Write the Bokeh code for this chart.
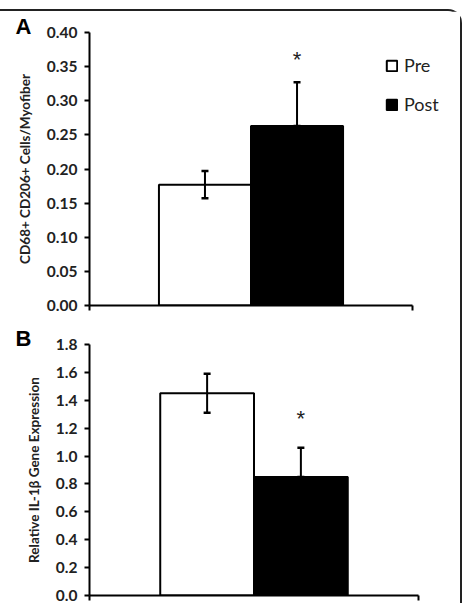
from bokeh.plotting import figure
from bokeh.layouts import column
from bokeh.models import (Range1d, FixedTicker, Legend, LegendItem, ColumnDataSource,
                          Title, NumeralTickFormatter)
from bokeh.embed import file_html
from bokeh.resources import INLINE
from bokeh.core.properties import value

# ---- data ----
groups = ["Pre", "Post"]
bar_fill = ["white", "black"]

a_means = [0.177, 0.263]
a_err_up = [0.020, 0.064]
a_err_low = [0.020, 0.0]
a_ticks = [0.00, 0.05, 0.10, 0.15, 0.20, 0.25, 0.30, 0.35, 0.40]
a_star = [None, 0.362]
a_label = "CD68+ CD206+ Cells/Myofiber"

b_means = [1.45, 0.85]
b_err_up = [0.14, 0.21]
b_err_low = [0.14, 0.0]
b_ticks = [0.0, 0.2, 0.4, 0.6, 0.8, 1.0, 1.2, 1.4, 1.6, 1.8]
b_star = [None, 1.28]
b_label = "Relative IL-1\u03b2 Gene Expression"

FONT = "Lato"
BAR_W = 0.285
CENTER = 0.5
FIG_W = 460


def panel(means, up, low, ticks, fmt, ylabel, letter, stars, height,
          b_top, b_bottom, axis_end_px, legend=False):
    xs = [CENTER - BAR_W / 2, CENTER + BAR_W / 2]
    src = ColumnDataSource(dict(
        x=xs, top=means, fill=bar_fill, name=groups,
        hi=[m + u for m, u in zip(means, up)],
        lo=[m - l for m, l in zip(means, low)],
    ))
    left, right_border = 89, 2
    frame_w = FIG_W - left - right_border
    x_end = frame_w / (axis_end_px - left)
    p = figure(width=FIG_W, height=height, output_backend="svg", toolbar_location=None,
               x_range=Range1d(0, x_end), y_range=Range1d(ticks[0], ticks[-1]),
               min_border_left=left, min_border_right=right_border,
               min_border_top=b_top, min_border_bottom=b_bottom)
    p.outline_line_color = None
    p.grid.visible = False
    p.background_fill_color = "white"
    p.border_fill_color = "white"

    bars = p.vbar(x="x", top="top", bottom=0, width=BAR_W, source=src,
                  fill_color="fill", line_color="black", line_width=2)
    p.segment(x0="x", y0="lo", x1="x", y1="hi", source=src, line_color="black", line_width=2)
    p.scatter(x="x", y="hi", source=src, marker="dash", size=7, line_color="black", line_width=2.5)
    p.scatter(x="x", y="lo", source=src, marker="dash", size=7, line_color="black", line_width=2.5)

    sx = [x for x, s in zip(xs, stars) if s is not None]
    sy = [s for s in stars if s is not None]
    p.text(x=sx, y=sy, text=["*"] * len(sx), text_align="center", text_baseline="middle",
           y_offset=1, text_font=value("Liberation Sans"), text_font_size="22px",
           text_color="#222")

    ya = p.yaxis[0]
    ya.ticker = FixedTicker(ticks=ticks)
    ya.formatter = NumeralTickFormatter(format=fmt)
    ya.axis_label = ylabel
    ya.axis_label_text_font = FONT
    ya.axis_label_text_font_style = "bold"
    ya.axis_label_text_font_size = "13.5px"
    ya.axis_label_text_color = "#222"
    ya.axis_label_standoff = 11
    ya.major_label_text_font = FONT
    ya.major_label_text_font_style = "bold"
    ya.major_label_text_font_size = "15.5px"
    ya.major_label_text_color = "#222"
    ya.major_label_standoff = 7
    ya.major_tick_in = 0
    ya.major_tick_out = 5
    ya.minor_tick_line_color = None
    ya.axis_line_width = 2
    ya.major_tick_line_width = 2
    ya.axis_line_color = "black"
    ya.major_tick_line_color = "black"

    xa = p.xaxis[0]
    xa.bounds = (0, 1)
    xa.ticker = FixedTicker(ticks=[0, 1])
    xa.major_label_overrides = {0: "", 1: ""}
    xa.major_label_standoff = 0
    xa.major_tick_in = 0
    xa.major_tick_out = 5
    xa.minor_tick_line_color = None
    xa.axis_line_width = 2
    xa.major_tick_line_width = 2
    xa.axis_line_color = "black"
    xa.major_tick_line_color = "black"

    p.add_layout(Title(text=letter, align="left", offset=-74, standoff=-12,
                       text_font="Liberation Sans", text_font_style="bold",
                       text_font_size="22px", text_color="black"), "above")

    if legend:
        lg = Legend(items=[LegendItem(label=g, renderers=[bars], index=i)
                           for i, g in enumerate(groups)],
                    location=(296, 190), orientation="vertical",
                    glyph_width=13, glyph_height=13, label_standoff=6, spacing=17,
                    padding=0, margin=0, border_line_color=None,
                    background_fill_alpha=0, label_text_font=FONT,
                    label_text_font_size="18px", label_text_color="#222",
                    label_height=13)
        p.add_layout(lg, "center")
    return p


pa = panel(a_means, a_err_up, a_err_low, a_ticks, "0.00", a_label, "A", a_star,
           height=307, b_top=21, b_bottom=13, axis_end_px=412, legend=True)
pb = panel(b_means, b_err_up, b_err_low, b_ticks, "0.0", b_label, "B", b_star,
           height=285, b_top=26, b_bottom=8, axis_end_px=418)

lay = column(pa, pb, spacing=0,
             styles={"border-top": "2px solid #222", "border-right": "2px solid #222",
                     "border-top-right-radius": "14px", "margin-top": "9px",
                     "background": "white"})

open("out.html", "w").write(file_html(lay, INLINE))
